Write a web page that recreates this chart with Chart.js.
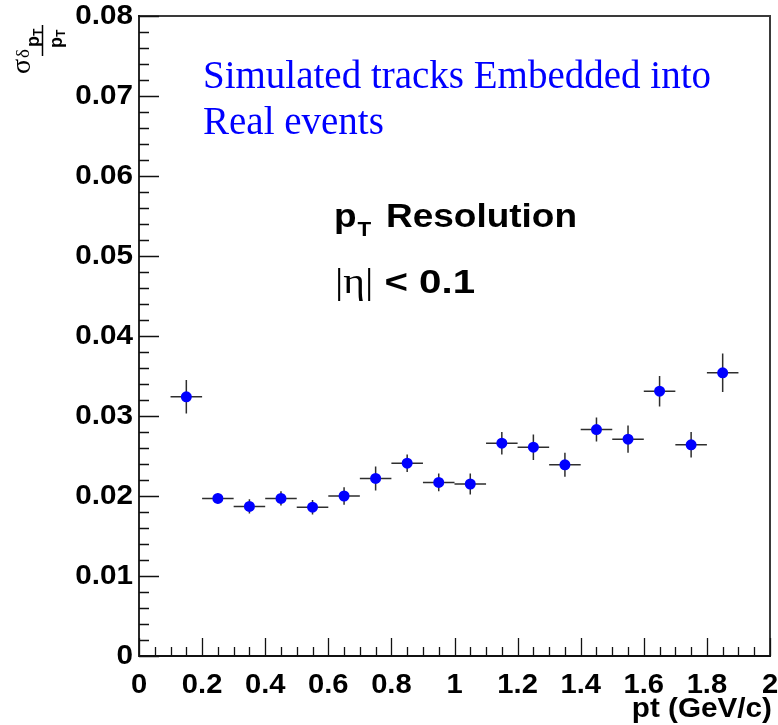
<!DOCTYPE html>
<html>
<head>
<meta charset="utf-8">
<script src="https://cdn.jsdelivr.net/npm/chart.js@4.4.1/dist/chart.umd.min.js"></script>
<style>
  html, body { margin: 0; padding: 0; background: #ffffff; }
  canvas { display: block; }
</style>
</head>
<body>
<canvas id="c" width="778" height="725"></canvas>
<script>
// pT bin centres (GeV/c) and the measured relative momentum resolution
const ptBins = [0.15, 0.25, 0.35, 0.45, 0.55, 0.65, 0.75, 0.85, 0.95,
                1.05, 1.15, 1.25, 1.35, 1.45, 1.55, 1.65, 1.75, 1.85];
const resolution = [0.0324, 0.0197, 0.0187, 0.0197, 0.0186, 0.0200, 0.0222, 0.0241, 0.0217,
                    0.0215, 0.0266, 0.0261, 0.0239, 0.0283, 0.0271, 0.0331, 0.0264, 0.0354];
const resolutionErr = [0.0021, 0.0006, 0.0009, 0.0009, 0.0009, 0.0011, 0.0015, 0.0011, 0.0011,
                       0.0013, 0.0014, 0.0016, 0.0015, 0.0015, 0.0017, 0.0019, 0.0016, 0.0024];
const binHalfWidth = [0.05, 0.05, 0.05, 0.05, 0.05, 0.05, 0.05, 0.05, 0.05,
                      0.05, 0.05, 0.05, 0.05, 0.05, 0.05, 0.05, 0.05, 0.05];

// axis tick labels
const xTickLabels = ['0', '0.2', '0.4', '0.6', '0.8', '1', '1.2', '1.4', '1.6', '1.8', '2'];
const yTickLabels = ['0', '0.01', '0.02', '0.03', '0.04', '0.05', '0.06', '0.07', '0.08'];

const SANS = '"Liberation Sans", Arial, Helvetica, sans-serif';
const SERIF = '"Liberation Serif", "Times New Roman", Times, serif';

// fillText with an optional horizontal stretch; returns the drawn width
function text(ctx, str, x, y, font, opts = {}) {
  ctx.save();
  ctx.font = font;
  ctx.fillStyle = opts.color || '#000';
  ctx.textAlign = opts.align || 'left';
  ctx.textBaseline = opts.baseline || 'alphabetic';
  const sx = opts.scaleX || 1;
  ctx.translate(x, y);
  ctx.scale(sx, 1);
  ctx.fillText(str, 0, 0);
  const w = ctx.measureText(str).width * sx;
  ctx.restore();
  return w;
}

// horizontal and vertical error bars, drawn under the markers
const errorBars = {
  id: 'errorBars',
  beforeDatasetsDraw(chart) {
    const { ctx, scales: { x, y } } = chart;
    ctx.save();
    ctx.strokeStyle = '#2e2e2e';
    ctx.lineWidth = 1.5;
    ctx.beginPath();
    ptBins.forEach((pt, i) => {
      const px = x.getPixelForValue(pt);
      const py = y.getPixelForValue(resolution[i]);
      ctx.moveTo(x.getPixelForValue(pt - binHalfWidth[i]), py);
      ctx.lineTo(x.getPixelForValue(pt + binHalfWidth[i]), py);
      ctx.moveTo(px, y.getPixelForValue(resolution[i] - resolutionErr[i]));
      ctx.lineTo(px, y.getPixelForValue(resolution[i] + resolutionErr[i]));
    });
    ctx.stroke();
    ctx.restore();
  }
};

// frame, inward ticks, tick labels, axis titles and the annotations
const frame = {
  id: 'frame',
  beforeDatasetsDraw(chart) {
    const { ctx, chartArea: a, scales: { x, y } } = chart;
    ctx.save();
    ctx.lineCap = 'square';
    ctx.strokeStyle = '#3a3a3a';
    ctx.lineWidth = 2;
    ctx.beginPath();
    ctx.moveTo(a.left, a.top);
    ctx.lineTo(a.right, a.top);
    ctx.lineTo(a.right, a.bottom);
    ctx.stroke();
    ctx.strokeStyle = '#111';
    ctx.lineWidth = 1.8;
    ctx.beginPath();
    ctx.moveTo(a.left, a.top);
    ctx.lineTo(a.left, a.bottom);
    ctx.lineTo(a.right, a.bottom);
    ctx.stroke();

    ctx.lineWidth = 1.3;
    ctx.lineCap = 'butt';
    ctx.beginPath();
    for (let k = 0; k <= 40; k++) {
      const py = Math.round(y.getPixelForValue(k * 0.002)) + 0.5;
      const len = k % 5 === 0 ? 20 : 10;
      ctx.moveTo(a.left, py);
      ctx.lineTo(a.left + len, py);
    }
    for (let k = 0; k <= 40; k++) {
      const px = Math.round(x.getPixelForValue(k * 0.05)) + 0.5;
      const len = k % 4 === 0 ? 18 : 9;
      ctx.moveTo(px, a.bottom);
      ctx.lineTo(px, a.bottom - len);
    }
    ctx.stroke();
    ctx.restore();

    const tickFont = 'bold 27px ' + SANS;
    yTickLabels.forEach(l => {
      text(ctx, l, a.left - 6, y.getPixelForValue(parseFloat(l)) + 1, tickFont,
           { align: 'right', baseline: 'middle', scaleX: 1.1 });
    });
    xTickLabels.forEach(l => {
      text(ctx, l, x.getPixelForValue(parseFloat(l)), a.bottom + 37, tickFont,
           { align: 'center', scaleX: 1.08 });
    });
    text(ctx, 'pt (GeV/c)', 772, 717, 'bold 28px ' + SANS, { align: 'right', scaleX: 1.06 });

    // y title: sigma(delta pT) / pT, written bottom-to-top
    ctx.save();
    ctx.translate(42, 74);
    ctx.rotate(-Math.PI / 2);
    text(ctx, 'σ', 0, -12, '28px ' + SERIF);
    text(ctx, 'δ', 16, -13, '19px ' + SERIF);
    ctx.strokeStyle = '#000';
    ctx.lineWidth = 1.5;
    ctx.beginPath();
    ctx.moveTo(18, 0.5);
    ctx.lineTo(49, 0.5);
    ctx.stroke();
    text(ctx, 'p', 27, -3.5, 'bold 18px ' + SANS);
    text(ctx, 'T', 38, -0.5, 'bold 12px ' + SANS);
    text(ctx, 'p', 26, 19.5, 'bold 18px ' + SANS);
    text(ctx, 'T', 37, 22.5, 'bold 12px ' + SANS);
    ctx.restore();

    // annotations inside the frame
    text(ctx, 'Simulated tracks Embedded into', 203, 88, '39px ' + SERIF, { color: '#0000ff' });
    text(ctx, 'Real events', 203, 134, '39px ' + SERIF, { color: '#0000ff' });

    const pw = text(ctx, 'p', 334, 227, 'bold 33px ' + SANS, { scaleX: 1.12 });
    text(ctx, 'T', 334 + pw + 1, 236, 'bold 20px ' + SANS, { scaleX: 1.12 });
    text(ctx, 'Resolution', 386, 227, 'bold 33px ' + SANS, { scaleX: 1.12 });

    let cx = 335;
    cx += text(ctx, '|η|', cx, 293, '36px ' + SERIF, { scaleX: 1.15 });
    text(ctx, ' < 0.1', cx, 293, 'bold 33px ' + SANS, { scaleX: 1.22 });
  }
};

new Chart(document.getElementById('c'), {
  type: 'scatter',
  data: {
    datasets: [{
      label: 'pT resolution',
      data: ptBins.map((pt, i) => ({ x: pt, y: resolution[i] })),
      backgroundColor: '#0000ff',
      borderColor: '#0000ff',
      borderWidth: 0,
      pointRadius: 5.5,
      pointHoverRadius: 5.5
    }]
  },
  options: {
    responsive: false,
    animation: false,
    devicePixelRatio: 1,
    layout: { padding: { left: 139, top: 16, right: 8, bottom: 69 } },
    plugins: { legend: { display: false }, tooltip: { enabled: false } },
    scales: {
      x: { type: 'linear', min: 0, max: 2, display: false },
      y: { type: 'linear', min: 0, max: 0.08, display: false }
    }
  },
  plugins: [frame, errorBars]
});
</script>
</body>
</html>
